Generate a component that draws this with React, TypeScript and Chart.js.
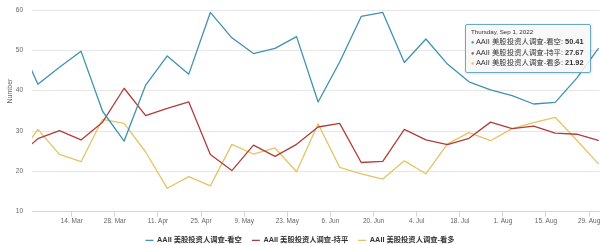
import { useEffect, useRef } from 'react';
import { Chart, registerables } from 'chart.js';

Chart.register(...registerables);

// Weekly AAII survey release dates (Thursdays)
const dates = [
  '2022-02-24', '2022-03-03', '2022-03-10', '2022-03-17', '2022-03-24', '2022-03-31',
  '2022-04-07', '2022-04-14', '2022-04-21', '2022-04-28', '2022-05-05', '2022-05-12',
  '2022-05-19', '2022-05-26', '2022-06-02', '2022-06-09', '2022-06-16', '2022-06-23',
  '2022-06-30', '2022-07-07', '2022-07-14', '2022-07-21', '2022-07-28', '2022-08-04',
  '2022-08-11', '2022-08-18', '2022-08-25', '2022-09-01',
];
const bearish = [
  53.5, 41.6, 45.8, 49.8, 34.9, 27.5, 41.4, 48.6, 44.1, 59.4, 53.1, 49.2,
  50.5, 53.4, 37.2, 47.1, 58.4, 59.4, 47.0, 52.8, 46.6, 42.2, 40.2, 38.8,
  36.7, 37.1, 43.1, 50.41,
];
const neutral = [
  23.5, 28.1, 30.1, 27.8, 32.2, 40.6, 33.8, 35.6, 37.2, 24.2, 20.2, 26.5,
  23.7, 26.7, 31.0, 31.9, 22.2, 22.5, 30.4, 27.8, 26.6, 28.2, 32.2, 30.6,
  31.2, 29.5, 29.2, 27.67,
];
const bullish = [
  23.0, 30.4, 24.2, 22.4, 32.9, 31.9, 24.8, 15.8, 18.7, 16.4, 26.7, 24.3,
  25.8, 19.9, 31.8, 21.0, 19.4, 18.1, 22.6, 19.4, 26.8, 29.6, 27.6, 30.6,
  32.1, 33.4, 27.7, 21.92,
];
const seriesNames = [
  'AAII 美股投资人调查-看空',
  'AAII 美股投资人调查-持平',
  'AAII 美股投资人调查-看多',
];
const seriesColors = ['#3f92b0', '#b13d3b', '#e3c465'];
const tickDates = [
  '2022-03-14', '2022-03-28', '2022-04-11', '2022-04-25', '2022-05-09', '2022-05-23',
  '2022-06-06', '2022-06-20', '2022-07-04', '2022-07-18', '2022-08-01', '2022-08-15',
  '2022-08-29',
];
const tickLabels = [
  '14. Mar', '28. Mar', '11. Apr', '25. Apr', '9. May', '23. May', '6. Jun',
  '20. Jun', '4. Jul', '18. Jul', '1. Aug', '15. Aug', '29. Aug',
];
const yTicks = [10, 20, 30, 40, 50, 60];
const viewStart = '2022-03-01T02:00:00Z';
const viewEnd = '2022-09-01T08:00:00Z';
const yTitle = 'Number';

const FONT = "'Liberation Sans', 'Noto Sans CJK SC', Arial, sans-serif";
const DAY = 86400000;
const ORIGIN = Date.parse('2022-03-14T00:00:00Z');
const dayOf = (s: string) => (Date.parse(s.length > 10 ? s : s + 'T00:00:00Z') - ORIGIN) / DAY;

export default function App() {
  const canvasRef = useRef<HTMLCanvasElement | null>(null);
  const tipRef = useRef<HTMLDivElement | null>(null);

  useEffect(() => {
    const canvas = canvasRef.current;
    if (!canvas) return;
    const seriesValues = [bearish, neutral, bullish];

    const yTitlePlugin = {
      id: 'yTitle',
      afterDraw(chart: any) {
        const { ctx } = chart;
        ctx.save();
        ctx.translate(10, 91);
        ctx.rotate(-Math.PI / 2);
        ctx.font = `7px ${FONT}`;
        ctx.fillStyle = '#666666';
        ctx.textAlign = 'center';
        ctx.textBaseline = 'middle';
        ctx.fillText(yTitle, 0, 0);
        ctx.restore();
      },
    };

    const external = (context: any) => {
      const { tooltip } = context;
      const el = tipRef.current;
      if (!el) return;
      if (!tooltip || tooltip.opacity === 0 || !tooltip.dataPoints || !tooltip.dataPoints.length) {
        el.style.opacity = '0';
        return;
      }
      const idx = tooltip.dataPoints[0].dataIndex;
      const title = new Date(dates[idx] + 'T00:00:00Z').toLocaleDateString('en-US', {
        weekday: 'long', month: 'short', day: 'numeric', year: 'numeric', timeZone: 'UTC',
      });
      let html = `<div style="font-size:6.2px;color:#333;line-height:8px;margin-bottom:1px">${title}</div>`;
      tooltip.dataPoints.forEach((dp: any) => {
        const c = seriesColors[dp.datasetIndex];
        html += `<div style="line-height:9.6px;white-space:nowrap"><span style="color:${c};font-size:5.5px">●</span> ${seriesNames[dp.datasetIndex]}: <b>${Number(dp.raw.y).toFixed(2)}</b></div>`;
      });
      el.innerHTML = html;
      el.style.opacity = '1';
      const w = el.offsetWidth;
      const h = el.offsetHeight;
      const first = tooltip.dataPoints[0].element;
      el.style.left = `${first.x - 8 - w}px`;
      el.style.top = `${first.y - h / 2}px`;
    };

    const chart = new Chart(canvas, {
      type: 'line',
      data: {
        datasets: seriesValues.map((vals, si) => ({
          label: seriesNames[si],
          data: vals.map((v, i) => ({ x: dayOf(dates[i]), y: v })),
          borderColor: seriesColors[si],
          backgroundColor: seriesColors[si],
          borderWidth: 1.3,
          pointRadius: 0,
          pointHoverRadius: 0,
          borderJoinStyle: 'round',
          borderCapStyle: 'round',
          tension: 0,
        })),
      },
      options: {
        responsive: false,
        animation: false,
        layout: { padding: { left: 0, right: 0, top: 10, bottom: -9 } },
        interaction: { mode: 'index', intersect: false },
        scales: {
          x: {
            type: 'linear',
            min: dayOf(viewStart),
            max: dayOf(viewEnd),
            afterBuildTicks: (scale: any) => {
              scale.ticks = tickDates.map((d) => ({ value: dayOf(d) }));
            },
            afterFit: (scale: any) => {
              scale.height = 15;
              scale.paddingLeft = 0;
              scale.paddingRight = 0;
            },
            ticks: {
              autoSkip: false,
              maxRotation: 0,
              padding: 1,
              color: '#666666',
              font: { size: 6.5, family: FONT },
              callback: (_v: any, i: number) => tickLabels[i],
            },
            grid: {
              drawOnChartArea: false,
              drawTicks: true,
              tickLength: 5,
              color: '#ccd6eb',
            },
            border: { color: '#ccd6eb' },
          },
          y: {
            min: 10,
            max: 60,
            afterBuildTicks: (scale: any) => {
              scale.ticks = yTicks.map((v) => ({ value: v }));
            },
            afterFit: (scale: any) => {
              scale.width = 32;
              scale.paddingTop = 0;
              scale.paddingBottom = 0;
            },
            ticks: {
              padding: 9,
              color: '#666666',
              font: { size: 6.5, family: FONT },
            },
            grid: { color: '#e6e6e6', drawTicks: false },
            border: { display: false },
          },
        },
        plugins: {
          legend: {
            position: 'bottom',
            labels: {
              boxWidth: 8,
              boxHeight: 1.3,
              padding: 10,
              color: '#333333',
              font: { size: 7.3, weight: 'bold', family: FONT },
              generateLabels: (ch: any) =>
                (Chart.defaults.plugins.legend.labels as any)
                  .generateLabels(ch)
                  .map((l: any) => ({ ...l, lineWidth: 0 })),
            },
          },
          tooltip: {
            enabled: false,
            mode: 'index',
            intersect: false,
            external,
          },
        },
      } as any,
      plugins: [yTitlePlugin],
    });

    const last = dates.length - 1;
    chart.tooltip?.setActiveElements(
      [0, 1, 2].map((d) => ({ datasetIndex: d, index: last })),
      { x: 598, y: 48 }
    );
    chart.update();

    return () => {
      chart.destroy();
    };
  }, []);

  return (
    <div style={{ position: 'fixed', left: 0, top: 0, width: 600, height: 245, background: '#ffffff', overflow: 'hidden' }}>
      <canvas ref={canvasRef} width={600} height={245} style={{ display: 'block' }} />
      <div
        ref={tipRef}
        style={{
          position: 'absolute',
          opacity: 0,
          pointerEvents: 'none',
          background: 'rgba(247,247,247,0.88)',
          border: '1px solid #6aaac2',
          borderRadius: 2,
          padding: '3px 6px 3px 5px',
          fontFamily: FONT,
          fontSize: 7.4,
          color: '#333333',
          boxShadow: '0.5px 0.5px 2px rgba(0,0,0,0.12)',
          whiteSpace: 'nowrap',
        }}
      />
    </div>
  );
}
